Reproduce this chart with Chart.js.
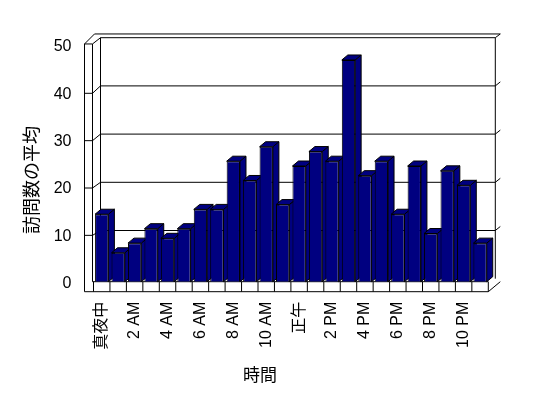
<!DOCTYPE html>
<html>
<head>
<meta charset="utf-8">
<script src="https://cdn.jsdelivr.net/npm/chart.js@4/dist/chart.umd.min.js"></script>
<style>
  html, body { margin: 0; padding: 0; background: #fff; }
</style>
</head>
<body>
<canvas id="grafico-1" width="548" height="398"></canvas>
<script>
let Horas = ['真夜中', '1 AM', '2 AM', '3 AM', '4 AM', '5 AM', '6 AM', '7 AM', '8 AM', '9 AM', '10 AM', '11 AM',
             '正午', '1 PM', '2 PM', '3 PM', '4 PM', '5 PM', '6 PM', '7 PM', '8 PM', '9 PM', '10 PM', '11 PM'];
let Visitas = [14, 6, 8, 11, 9, 11, 15, 15, 25, 21, 28, 16, 24, 27, 25, 46, 22, 25, 14, 24, 10, 23, 20, 8];
let MarcasY = [0, 10, 20, 30, 40, 50];
let TituloX = '時間';
let TituloY = '訪問数の平均';

var fonte = '"Liberation Sans", "Noto Sans CJK JP", sans-serif';
var corBarra = 'rgb(0, 0, 128)';

function linha(ctx, pts) {
  ctx.beginPath();
  ctx.moveTo(pts[0][0], pts[0][1]);
  for (var i = 1; i < pts.length; i++) ctx.lineTo(pts[i][0], pts[i][1]);
  ctx.stroke();
}

function poligono(ctx, pts) {
  ctx.beginPath();
  ctx.moveTo(pts[0][0], pts[0][1]);
  for (var i = 1; i < pts.length; i++) ctx.lineTo(pts[i][0], pts[i][1]);
  ctx.closePath();
  ctx.fill();
  ctx.stroke();
}

// caixa 3D estilo Excel: paredes, piso e a profundidade das barras
var caixa3d = {
  id: 'caixa3d',
  beforeDatasetsDraw(chart) {
    var ctx = chart.ctx;
    var a = chart.chartArea;
    var y = chart.scales.y, yf = chart.scales.yFrente;
    var L = a.left, R = a.right, base = a.bottom;
    var xF = L - 9, xI = L - 1;
    var topoF = yf.getPixelForValue(50) - 1;
    ctx.save();
    ctx.strokeStyle = '#000';
    ctx.lineWidth = 1;

    // parede do fundo
    MarcasY.forEach(function (v) {
      var yb = y.getPixelForValue(v) - 3;
      var yv = yf.getPixelForValue(v) + 1;
      if (v > 0) linha(ctx, [[L + 7, yb], [R + 7, yb]]);
      if (v > 0 && v < 50) {
        linha(ctx, [[xF, yv], [xI, yv], [L + 7, yb]]);
        linha(ctx, [[R + 7, yb], [R + 12, yb - 4]]);
      }
    });
    linha(ctx, [[L + 7, y.getPixelForValue(50) - 3], [L + 7, base - 3]]);
    linha(ctx, [[R + 7, y.getPixelForValue(50) - 3], [R + 7, base - 3]]);

    // parede lateral e topo
    linha(ctx, [[xF, topoF], [xF, base + 10]]);
    linha(ctx, [[xI, topoF], [xI, base]]);
    linha(ctx, [[xF, topoF], [xI, topoF], [L + 7, y.getPixelForValue(50) - 3]]);
    linha(ctx, [[xF, topoF], [xF + 10, topoF - 10], [R + 12, topoF - 10], [R + 7, y.getPixelForValue(50) - 3]]);

    // piso
    linha(ctx, [[xF, base + 10], [R, base + 10], [R + 12, base]]);
    linha(ctx, [[xI, base], [R, base]]);
    var w = (R - L) / Horas.length;
    for (var i = 0; i <= Horas.length; i++) {
      linha(ctx, [[L + i * w, base], [L + i * w, base + 10]]);
    }

    // profundidade das barras
    ctx.fillStyle = corBarra;
    var meta = chart.getDatasetMeta(0);
    meta.data.forEach(function (b) {
      var esq = b.x - b.width / 2, dir = b.x + b.width / 2;
      poligono(ctx, [[dir, b.y], [dir + 6, b.y - 5], [dir + 6, b.base - 5], [dir, b.base]]);
      poligono(ctx, [[esq, b.y], [esq + 6, b.y - 5], [dir + 6, b.y - 5], [dir, b.y]]);
    });
    ctx.restore();
  },
  afterDraw(chart) {
    var ctx = chart.ctx;
    ctx.save();
    ctx.fillStyle = '#000';
    ctx.textAlign = 'center';
    ctx.textBaseline = 'middle';
    ctx.font = '17px ' + fonte;
    ctx.fillText(TituloX, 260, 376);
    ctx.font = '18px ' + fonte;
    ctx.translate(33, 180);
    ctx.rotate(-Math.PI / 2);
    ctx.fillText(TituloY, 0, 0);
    ctx.restore();
  }
};

function criarGrafico(idGrafico) {
  var ctx = document.getElementById(idGrafico).getContext('2d');
  return new Chart(ctx, {
    type: 'bar',
    data: {
      labels: Horas,
      datasets: [{
        data: Visitas,
        backgroundColor: corBarra,
        borderColor: '#000',
        borderWidth: 1,
        barPercentage: 0.81,
        categoryPercentage: 1,
        yAxisID: 'y'
      }]
    },
    options: {
      responsive: false,
      animation: false,
      layout: { padding: { top: 40.7, right: 59.7, left: 0, bottom: 0 } },
      plugins: { legend: { display: false }, tooltip: { enabled: false } },
      scales: {
        x: {
          grid: { display: false, drawTicks: false },
          border: { display: false },
          afterFit: function (s) { s.height = 116.3; },
          ticks: {
            autoSkip: false,
            minRotation: 90,
            maxRotation: 90,
            padding: 20,
            color: '#000',
            font: { family: fonte, size: 16 },
            callback: function (v, i) { return i % 2 === 0 ? Horas[i] : ''; }
          }
        },
        y: { display: false, min: 0, max: 50 },
        yFrente: {
          position: 'left',
          min: 0,
          max: 50.9,
          grid: { display: false, drawTicks: false },
          border: { display: false },
          afterFit: function (s) { s.width = 93.5; },
          afterBuildTicks: function (s) { s.ticks = MarcasY.map(function (v) { return { value: v }; }); },
          ticks: {
            padding: 22,
            labelOffset: 2,
            color: '#000',
            font: { family: fonte, size: 16 }
          }
        }
      }
    },
    plugins: [caixa3d]
  });
}

criarGrafico('grafico-1');
</script>
</body>
</html>
